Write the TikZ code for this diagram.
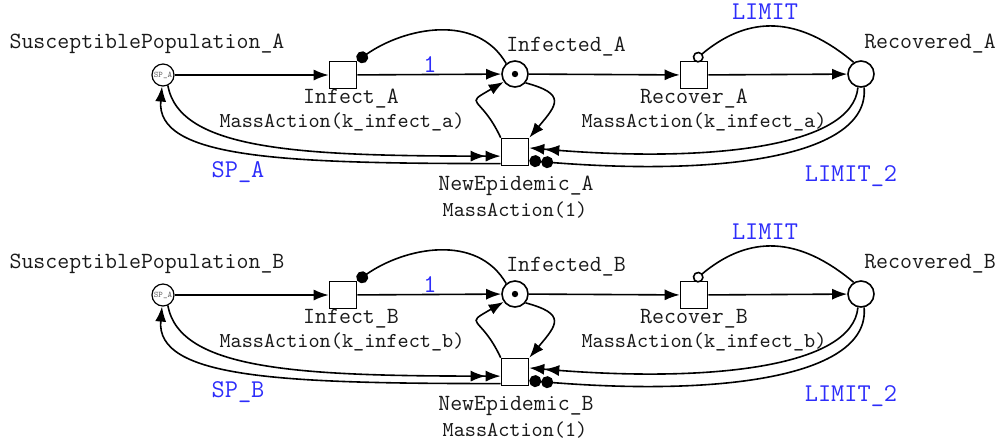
\documentclass[tikz,border=0pt]{standalone}
\usetikzlibrary{arrows.meta}
\definecolor{lblue}{RGB}{45,45,250}

\begin{document}
\begin{tikzpicture}[
    x=0.5pt, y=-0.5pt,
    place/.style={circle, draw=black, line width=0.8pt, fill=white,
        minimum size=13pt, inner sep=0pt},
    smallplace/.style={place, minimum size=11pt, line width=0.6pt,
        font=\fontsize{4.3}{5}\selectfont\ttfamily, text=black!60},
    trans/.style={rectangle, draw=black, line width=0.8pt, fill=white,
        minimum size=13.5pt, inner sep=0pt},
    lbl/.style={font=\fontsize{11.6}{13}\selectfont\ttfamily, text=black!90},
    rate/.style={font=\fontsize{10.6}{12}\selectfont\ttfamily, text=black!90},
    arclbl/.style={font=\fontsize{12.8}{14}\selectfont\ttfamily, text=lblue},
    flow/.style={line width=0.8pt, -{Latex[length=7.5pt,width=5.5pt]}},
    doubleflow/.style={line width=0.8pt,
        -{Latex[length=7.5pt,width=5.5pt]Latex[length=7.5pt,width=5.5pt]}},
    readarc/.style={line width=0.8pt, -{Circle[length=6pt]}},
    doubleread/.style={line width=0.8pt, -{Circle[length=6pt]Circle[length=6pt]}},
    inhibarc/.style={line width=0.8pt, -{Circle[open,length=5.5pt]}}
]
    \useasboundingbox (0,0) rectangle (997,441);

    % net A
    \node[smallplace] (spA) at (163,75) {SP\_A};
    \node[trans] (infA) at (343,75) {};
    \node[place] (infdA) at (515,74) {};
    \node[trans] (recA) at (694,75) {};
    \node[place] (recdA) at (861,74) {};
    \node[trans] (newA) at (515,152) {};
    \fill (infdA.center) circle[radius=1.6pt];

    \node[lbl] (spAname) at (147,44) {SusceptiblePopulation\_A};
    \node[lbl] (infAname) at (351,99) {Infect\_A};
    \node[rate] (infArate) at (342,122) {MassAction(k\_infect\_a)};
    \node[lbl] (infdAname) at (566,47) {Infected\_A};
    \node[lbl] (recAname) at (694,99) {Recover\_A};
    \node[rate] (recArate) at (704,122) {MassAction(k\_infect\_a)};
    \node[lbl] (recdAname) at (930,44) {Recovered\_A};
    \node[lbl] (newAname) at (516,186) {NewEpidemic\_A};
    \node[rate] (newArate) at (515,210) {MassAction(1)};

    \draw[flow] (spA) -- (infA);
    \draw[flow] (infA) -- (infdA);
    \draw[flow] (infdA) -- (recA);
    \draw[flow] (recA) -- (recdA);
    \draw[readarc] (infdA.130) to[out=120, in=35] (infA.north east);
    \draw[inhibarc] (recdA.122) to[out=140, in=40, looseness=1.15] (recA.north);
    \draw[flow] (infdA.-40) to[out=-15, in=50, looseness=2] (newA.north east);
    \draw[flow] (newA.north west) to[out=115, in=210, looseness=2.2] (infdA.215);
    \draw[doubleflow] (spA.-65) to[out=-80, in=180,
        out distance=33pt, in distance=100pt] (newA.196);
    \draw[flow] (newA.219) to[out=180, in=-95,
        out distance=110pt, in distance=36pt] (spA.-95);
    \draw[doubleflow] (recdA.-103) to[out=-95, in=-5,
        out distance=30pt, in distance=90pt] (newA.16);
    \draw[doubleread] (recdA.-77) to[out=-85, in=-5,
        out distance=35pt, in distance=95pt] (newA.-31);

    \node[arclbl] (oneA) at (430,65) {1};
    \node[arclbl] (limA) at (765,12) {LIMIT};
    \node[arclbl] (spAw) at (238,172) {SP\_A};
    \node[arclbl] (limtwoA) at (851,176) {LIMIT\_2};

    % net B
    \node[smallplace] (spB) at (163,295) {SP\_A};
    \node[trans] (infB) at (343,295) {};
    \node[place] (infdB) at (515,294) {};
    \node[trans] (recB) at (694,295) {};
    \node[place] (recdB) at (861,294) {};
    \node[trans] (newB) at (515,372) {};
    \fill (infdB.center) circle[radius=1.6pt];

    \node[lbl] (spBname) at (147,264) {SusceptiblePopulation\_B};
    \node[lbl] (infBname) at (351,319) {Infect\_B};
    \node[rate] (infBrate) at (342,342) {MassAction(k\_infect\_b)};
    \node[lbl] (infdBname) at (566,267) {Infected\_B};
    \node[lbl] (recBname) at (694,319) {Recover\_B};
    \node[rate] (recBrate) at (704,342) {MassAction(k\_infect\_b)};
    \node[lbl] (recdBname) at (930,264) {Recovered\_B};
    \node[lbl] (newBname) at (516,406) {NewEpidemic\_B};
    \node[rate] (newBrate) at (515,430) {MassAction(1)};

    \draw[flow] (spB) -- (infB);
    \draw[flow] (infB) -- (infdB);
    \draw[flow] (infdB) -- (recB);
    \draw[flow] (recB) -- (recdB);
    \draw[readarc] (infdB.130) to[out=120, in=35] (infB.north east);
    \draw[inhibarc] (recdB.122) to[out=140, in=40, looseness=1.15] (recB.north);
    \draw[flow] (infdB.-40) to[out=-15, in=50, looseness=2] (newB.north east);
    \draw[flow] (newB.north west) to[out=115, in=210, looseness=2.2] (infdB.215);
    \draw[doubleflow] (spB.-65) to[out=-80, in=180,
        out distance=33pt, in distance=100pt] (newB.196);
    \draw[flow] (newB.219) to[out=180, in=-95,
        out distance=110pt, in distance=36pt] (spB.-95);
    \draw[doubleflow] (recdB.-103) to[out=-95, in=-5,
        out distance=30pt, in distance=90pt] (newB.16);
    \draw[doubleread] (recdB.-77) to[out=-85, in=-5,
        out distance=35pt, in distance=95pt] (newB.-31);

    \node[arclbl] (oneB) at (430,285) {1};
    \node[arclbl] (limB) at (765,232) {LIMIT};
    \node[arclbl] (spBw) at (238,392) {SP\_B};
    \node[arclbl] (limtwoB) at (851,396) {LIMIT\_2};
\end{tikzpicture}
\end{document}
